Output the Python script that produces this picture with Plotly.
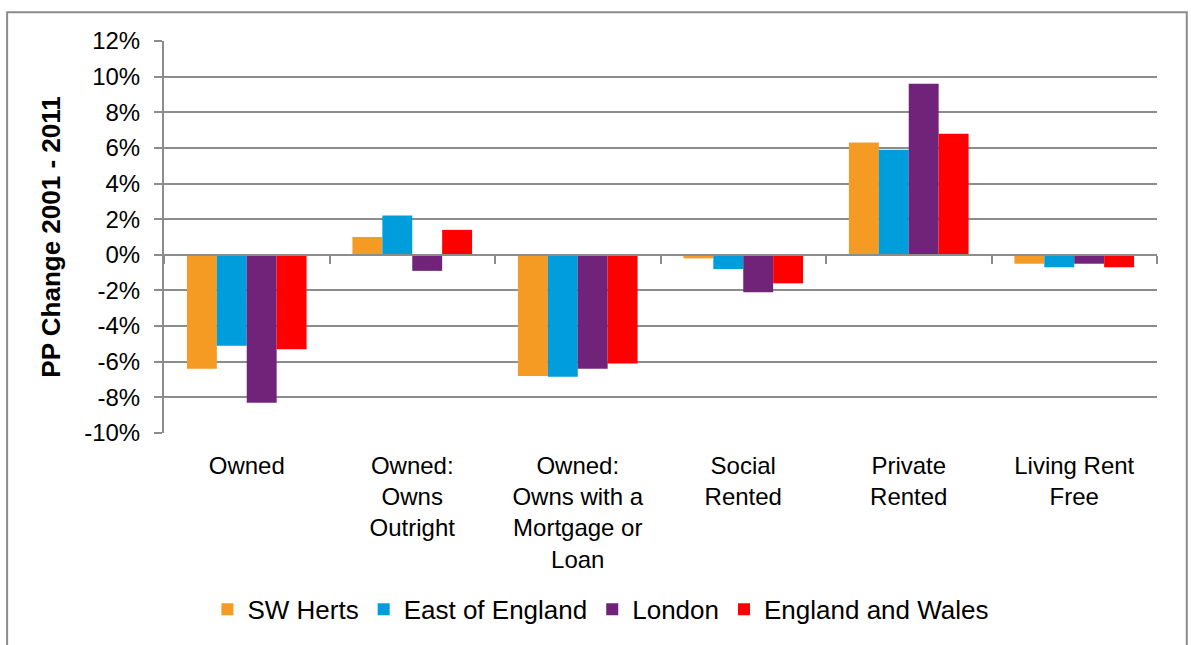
import plotly.graph_objects as go

# Tenure categories (multi-line labels) and percentage-point change 2001-2011
categories = [
    "Owned",
    "Owned:<br>Owns<br>Outright",
    "Owned:<br>Owns with a<br>Mortgage or<br>Loan",
    "Social<br>Rented",
    "Private<br>Rented",
    "Living Rent<br>Free",
]
sw_herts = [-6.4, 1.0, -6.8, -0.2, 6.3, -0.5]
east_of_england = [-5.1, 2.2, -6.85, -0.8, 5.9, -0.7]
london = [-8.3, -0.9, -6.4, -2.1, 9.6, -0.5]
england_wales = [-5.3, 1.4, -6.1, -1.6, 6.8, -0.7]

series_names = ["SW Herts", "East of England", "London", "England and Wales"]
series_values = [sw_herts, east_of_england, london, england_wales]
series_colors = ["#F59A23", "#009DDC", "#71237A", "#FF0000"]

y_min, y_max = -10, 12
tick_vals = list(range(y_min, y_max + 1, 2))
tick_text = [f"{v}%" for v in tick_vals]

FONT = "Liberation Sans, Arial, sans-serif"
GRID = "#8C8C8C"

fig = go.Figure()
for name, vals, color in zip(series_names, series_values, series_colors):
    fig.add_trace(go.Bar(
        x=categories, y=vals, name=name,
        marker=dict(color=color, line=dict(width=0)),
    ))

# invisible trace that carries the axis drawn along the zero line
fig.add_trace(go.Scatter(
    x=categories, y=[0] * len(categories), xaxis="x2", yaxis="y",
    mode="lines", line=dict(width=0), showlegend=False, hoverinfo="skip",
))

zero_pos = (0 - y_min) / (y_max - y_min)

fig.update_layout(
    width=1191, height=645,
    margin=dict(l=164, r=34, t=41, b=210),
    paper_bgcolor="white", plot_bgcolor="white",
    font=dict(family=FONT, size=24, color="black"),
    barmode="group", bargap=0.277, bargroupgap=0,
    xaxis=dict(
        type="category", categoryarray=categories, range=[-0.5, 5.5],
        showline=False, ticks="", showgrid=False, zeroline=False,
        tickfont=dict(size=24, family=FONT), ticklabelstandoff=16,
    ),
    xaxis2=dict(
        type="category", categoryarray=categories, range=[-0.5, 5.5],
        overlaying="x", anchor="free", position=zero_pos, side="bottom",
        showline=True, linecolor=GRID, linewidth=2,
        ticks="outside", tickson="boundaries", ticklen=8, tickwidth=2, tickcolor=GRID,
        showticklabels=False, showgrid=False, zeroline=False,
    ),
    yaxis=dict(
        range=[y_min, y_max], tickvals=tick_vals, ticktext=tick_text,
        showgrid=True, gridcolor=GRID, gridwidth=2,
        showline=True, linecolor=GRID, linewidth=2,
        ticks="outside", ticklen=8, tickwidth=2, tickcolor=GRID,
        zeroline=False, tickfont=dict(size=24, family=FONT), ticklabelstandoff=9,
        title=dict(text="<b>PP Change 2001 - 2011</b>", font=dict(size=26, family=FONT), standoff=16),
    ),
    legend=dict(
        orientation="h", x=0.44, xanchor="center", y=-0.45, yanchor="middle",
        font=dict(size=26, family=FONT), itemwidth=30, traceorder="normal",
    ),
    shapes=[dict(
        type="rect", xref="paper", yref="paper",
        x0=-0.158, x1=1.030, y0=-0.6, y1=1.0736,
        line=dict(color="#8C8C8C", width=2), fillcolor="rgba(0,0,0,0)", layer="below",
    )],
)

fig.write_html("out.html")
